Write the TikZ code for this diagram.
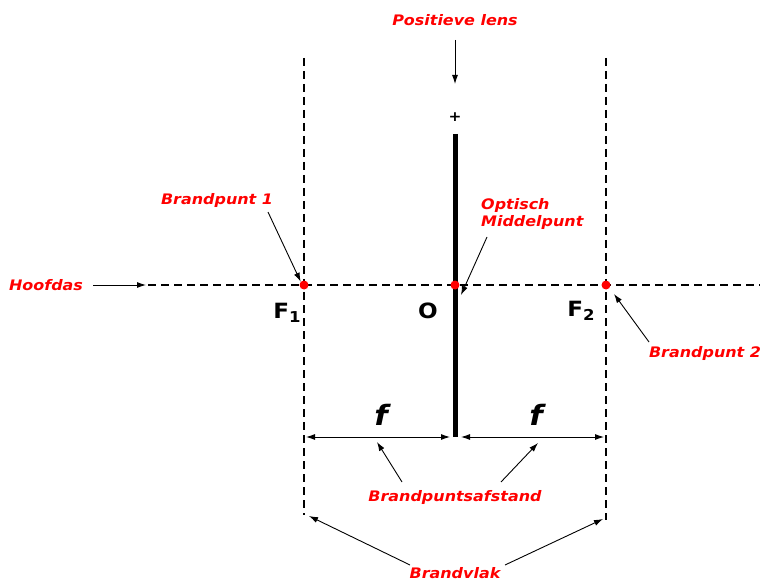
\documentclass[tikz,border=0pt]{standalone}
\usepackage{fontspec}
\setmainfont{DejaVu Sans}[FakeStretch=1.1]
\usetikzlibrary{arrows.meta}
\definecolor{lred}{RGB}{255,0,0}
\begin{document}
\begin{tikzpicture}[x=1pt,y=-1pt,
  lbl/.style={text=lred,font=\fontsize{14.5}{17}\selectfont\bfseries\itshape,inner sep=0pt},
  dashln/.style={line width=1.5pt,dash pattern=on 8pt off 5pt},
  arr/.style={line width=0.9pt,-{Latex[length=9pt,width=6pt]}},
  dimarr/.style={line width=0.9pt,{Latex[length=9pt,width=6pt]}-{Latex[length=9pt,width=6pt]}},
  big/.style={font=\fontsize{21}{23}\selectfont\bfseries,inner sep=0pt},
  fl/.style={font=\fontsize{28}{30}\selectfont\bfseries\itshape,inner sep=0pt},
  dot/.style={circle,fill=lred,inner sep=0pt,minimum size=9pt}]
\useasboundingbox (0,0) rectangle (764,583);
% axis and focal planes
\coordinate (axL) at (148,285);
\coordinate (axR) at (760,285);
\draw[dashln] (axL) -- (axR);
\coordinate (v1t) at (304,58);
\coordinate (v1b) at (304,515);
\coordinate (v2t) at (606,58);
\coordinate (v2b) at (606,520);
\draw[dashln] (v1t) -- (v1b);
\draw[dashln] (v2t) -- (v2b);
% lens
\coordinate (lt) at (455,134);
\coordinate (lb) at (455,437);
\draw[line width=5pt] (lt) -- (lb);
\node[font=\fontsize{14}{16}\selectfont\bfseries,inner sep=0pt] (plus) at (455,117) {+};
% points
\node[dot] (F1) at (304,285) {};
\node[dot] (O) at (455,285) {};
\node[dot] (F2) at (606,285) {};
% labels
\node[lbl] (pl) at (455,20) {Positieve lens};
\coordinate (plA) at (455,40);
\coordinate (plB) at (455,84);
\draw[arr] (plA) -- (plB);
\node[lbl] (bp1) at (217,201) {Brandpunt 1};
\coordinate (bp1a) at (268,212);
\draw[arr] (bp1a) -- (F1.north west);
\node[lbl,align=left,anchor=west] (om) at (481,214) {Optisch\\Middelpunt};
\coordinate (oma) at (487,237);
\draw[arr] (oma) -- ([shift={(6pt,-10pt)}]O.center);
\node[lbl] (hd) at (46,285) {Hoofdas};
\coordinate (hda) at (93,285);
\coordinate (hdb) at (146,285);
\draw[arr] (hda) -- (hdb);
\node[lbl] (bp2) at (705,353) {Brandpunt 2};
\coordinate (bp2a) at (649,342);
\draw[arr] (bp2a) -- ([shift={(8pt,-9pt)}]F2.center);
% letters
\node[big] (tF1) at (287,313) {F\raisebox{-0.35ex}{\fontsize{15}{17}\selectfont 1}};
\node[big] (tO) at (428,311) {O};
\node[big] (tF2) at (581,311) {F\raisebox{-0.35ex}{\fontsize{15}{17}\selectfont 2}};
\node[fl] (f1) at (381,415) {f};
\node[fl] (f2) at (536,415) {f};
% dimension arrows
\coordinate (d1a) at (306,437);
\coordinate (d1b) at (450,437);
\coordinate (d2a) at (461,437);
\coordinate (d2b) at (604,437);
\draw[dimarr] (d1a) -- (d1b);
\draw[dimarr] (d2a) -- (d2b);
\node[lbl] (bpa) at (455,497) {Brandpuntsafstand};
\coordinate (bpa1) at (402,482);
\coordinate (bpa1t) at (377,442);
\coordinate (bpa2) at (501,482);
\coordinate (bpa2t) at (538,443);
\draw[arr] (bpa1) -- (bpa1t);
\draw[arr] (bpa2) -- (bpa2t);
\node[lbl] (bv) at (455,573) {Brandvlak};
\coordinate (bv1) at (410,565);
\coordinate (bv1t) at (309,516);
\coordinate (bv2) at (505,565);
\coordinate (bv2t) at (603,519);
\draw[arr] (bv1) -- (bv1t);
\draw[arr] (bv2) -- (bv2t);
\end{tikzpicture}
\end{document}
